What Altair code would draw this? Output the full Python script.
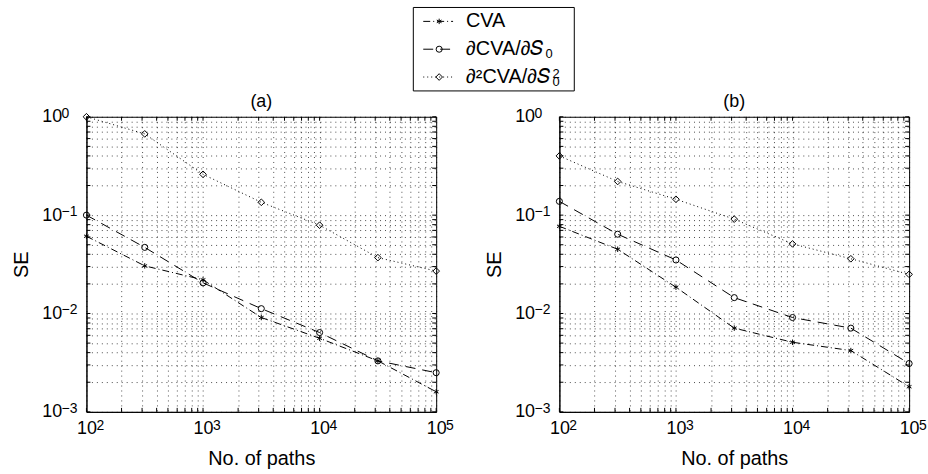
import altair as alt
import pandas as pd

# ---------------- data ----------------
paths = [100, 316.23, 1000, 3162.3, 10000, 31623, 100000]
series_names = ["CVA", "∂CVA/∂S0", "∂2CVA/∂S02"]
legend_main = ["CVA", "∂CVA/∂𝑆", "∂²CVA/∂𝑆"]
panel_names = ["(a)", "(b)"]

a_cva = [0.061, 0.0305, 0.022, 0.0091, 0.0056, 0.0033, 0.0016]
a_dcva = [0.100, 0.047, 0.0205, 0.0112, 0.0064, 0.0033, 0.0025]
a_d2cva = [1.00, 0.67, 0.26, 0.135, 0.079, 0.037, 0.027]

b_cva = [0.077, 0.045, 0.0185, 0.0071, 0.0051, 0.0042, 0.0018]
b_dcva = [0.138, 0.064, 0.035, 0.0145, 0.0091, 0.0071, 0.0031]
b_d2cva = [0.40, 0.22, 0.145, 0.091, 0.051, 0.036, 0.025]

x_ticks = [m * 10 ** k for k in range(2, 5) for m in range(1, 10)] + [100000]
y_ticks = [m * 10.0 ** k for k in range(-3, 0) for m in range(1, 10)] + [1]
x_decades = [100, 1000, 10000, 100000]
x_exps = ["2", "3", "4", "5"]
y_decades = [1, 0.1, 0.01, 0.001]
y_exps = ["0", "−1", "−2", "−3"]

rows = []
for pname, vals in zip(panel_names, [[a_cva, a_dcva, a_d2cva], [b_cva, b_dcva, b_d2cva]]):
    for s, v in zip(series_names, vals):
        for p, y in zip(paths, v):
            rows.append({"panel": pname, "series": s, "paths": p, "se": y})
df = pd.DataFrame(rows)

decade_expr = "abs(log(datum.value)/LN10 - round(log(datum.value)/LN10)) < 1e-6 ? '10' : ''"

asterisk = "M0,-1L0,1M-0.87,-0.5L0.87,0.5M-0.87,0.5L0.87,-0.5"
dash_scale = alt.Scale(domain=series_names, range=[[7, 3, 1, 3], [10, 7], [1, 3]])
shape_scale = alt.Scale(domain=series_names, range=[asterisk, "circle", "diamond"])
size_scale = alt.Scale(domain=series_names, range=[30, 45, 45])

W, H = 352, 297
TL = 4  # inward tick length
grid_kw = dict(grid=True, gridDash=[1, 4], gridColor="black", gridOpacity=0.7, gridWidth=1,
               labelFlush=False, labelOverlap=False)
xscale = alt.Scale(type="log", domain=[100, 100000], nice=False)
yscale = alt.Scale(type="log", domain=[0.001, 1], nice=False)
X = alt.X("paths:Q", scale=xscale,
          axis=alt.Axis(values=x_ticks, labelExpr=decade_expr, title="No. of paths",
                        labelPadding=8, titlePadding=11, **grid_kw))
Y = alt.Y("se:Q", scale=yscale,
          axis=alt.Axis(values=y_ticks, labelExpr=decade_expr, title="SE",
                        labelPadding=25, titlePadding=10, **grid_kw))


def panel(pname):
    d = df[df.panel == pname]
    lines = alt.Chart(d).mark_line(color="black", strokeWidth=1).encode(
        x=X, y=Y,
        strokeDash=alt.StrokeDash("series:N", scale=dash_scale, legend=None),
        detail="series:N",
    )
    pts = alt.Chart(d).mark_point(color="black", filled=False, strokeWidth=1, opacity=1).encode(
        x=X, y=Y,
        shape=alt.Shape("series:N", scale=shape_scale, legend=None),
        size=alt.Size("series:N", scale=size_scale, legend=None),
    )
    xt_df = pd.DataFrame({"paths": x_ticks})
    yt_df = pd.DataFrame({"se": y_ticks})
    tick_layers = [
        alt.Chart(xt_df).mark_rule(color="black", strokeWidth=1).encode(x=X, y=alt.value(H), y2=alt.value(H - TL)),
        alt.Chart(xt_df).mark_rule(color="black", strokeWidth=1).encode(x=X, y=alt.value(0), y2=alt.value(TL)),
        alt.Chart(yt_df).mark_rule(color="black", strokeWidth=1).encode(y=Y, x=alt.value(0), x2=alt.value(TL)),
        alt.Chart(yt_df).mark_rule(color="black", strokeWidth=1).encode(y=Y, x=alt.value(W - TL), x2=alt.value(W)),
    ]
    xexp = alt.Chart(pd.DataFrame({"paths": x_decades, "t": x_exps})).mark_text(
        align="left", baseline="alphabetic", fontSize=14, dx=10, color="black"
    ).encode(x=X, y=alt.value(H + 18), text="t:N")
    yexp = alt.Chart(pd.DataFrame({"se": y_decades, "t": y_exps})).mark_text(
        align="left", baseline="alphabetic", fontSize=14, dy=1, color="black"
    ).encode(y=Y, x=alt.value(-25), text="t:N")
    return alt.layer(lines, pts, *tick_layers, xexp, yexp).properties(
        width=W, height=H,
        title=alt.TitleParams(pname, fontSize=18, fontWeight="normal", offset=-4, frame="group"),
    )


# ---------------- legend (its own small view) ----------------
leg_df = pd.DataFrame({"series": series_names, "main": legend_main})
LH = 84
BOX_L, BOX_R = 329, 491
LW = BOX_R + 4
TX = BOX_L + 53
ly = alt.Y("series:N", sort=series_names, axis=None, scale=alt.Scale(type="point", padding=0.5))

leg_box = alt.Chart(pd.DataFrame({"k": [0]})).mark_rect(fill=None, stroke="black", strokeWidth=1).encode(
    x=alt.value(BOX_L), x2=alt.value(BOX_R), y=alt.value(0), y2=alt.value(LH)
)
leg_lines = alt.Chart(leg_df).mark_rule(color="black", strokeWidth=1).encode(
    x=alt.value(BOX_L + 10), x2=alt.value(BOX_L + 40), y=ly,
    strokeDash=alt.StrokeDash("series:N", scale=dash_scale, legend=None),
)
leg_pts = alt.Chart(leg_df).mark_point(color="black", filled=False, strokeWidth=1, opacity=1).encode(
    x=alt.value(BOX_L + 26), y=ly,
    shape=alt.Shape("series:N", scale=shape_scale, legend=None),
    size=alt.Size("series:N", scale=size_scale, legend=None),
)
leg_text = alt.Chart(leg_df).mark_text(align="left", baseline="middle", fontSize=20, color="black").encode(
    x=alt.value(TX), y=ly, text="main:N",
)
sub2 = alt.Chart(leg_df).transform_filter(alt.datum.series == series_names[1]).mark_text(
    align="left", baseline="alphabetic", fontSize=13, dy=9, color="black"
).encode(x=alt.value(TX + 80), y=ly, text=alt.value("0"))
sub3 = alt.Chart(leg_df).transform_filter(alt.datum.series == series_names[2]).mark_text(
    align="left", baseline="alphabetic", fontSize=13, dy=9, color="black"
).encode(x=alt.value(TX + 87), y=ly, text=alt.value("0"))
sup3 = alt.Chart(leg_df).transform_filter(alt.datum.series == series_names[2]).mark_text(
    align="left", baseline="alphabetic", fontSize=13, dy=1, color="black"
).encode(x=alt.value(TX + 87), y=ly, text=alt.value("2"))

legend = alt.layer(leg_box, leg_lines, leg_pts, leg_text, sub2, sub3, sup3).properties(
    width=LW, height=LH, view=alt.ViewBackground(stroke=None)
)

panels = alt.hconcat(panel("(a)"), panel("(b)"), spacing=29)

chart = alt.vconcat(legend, panels, spacing=0).properties(
    padding={"left": 11, "top": 5, "right": 0, "bottom": 0}
).configure(
    font="Liberation Sans"
).configure_view(
    stroke="black", strokeWidth=1
).configure_axis(
    labelFontSize=18, titleFontSize=20, titleFontWeight="normal", labelColor="black",
    titleColor="black", domainColor="black", domainWidth=1, ticks=False,
).configure_title(
    color="black"
)

chart.save("out.html", embed_options={"renderer": "svg", "actions": False})
